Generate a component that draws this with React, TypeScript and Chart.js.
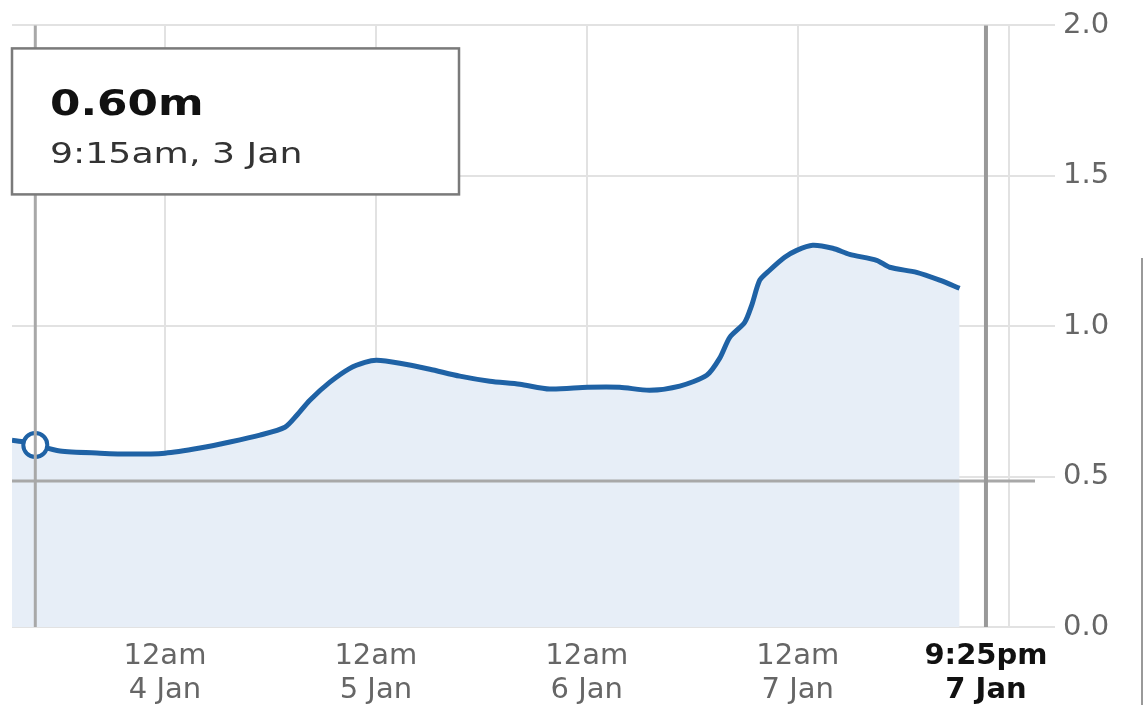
import React, { useEffect, useRef } from "react";
import { Chart, registerables } from "chart.js";

Chart.register(...registerables);

// Hours since 12am 3 Jan
const hours = [
  6.6, 8.08, 9.25, 12.06, 16.61, 20.02, 24, 27.98, 31.39, 34.81, 37.65, 39.01, 40.49, 42.77, 45.04, 46.75,
  48.11, 50.73, 54.14, 57.55, 60.97, 64.38, 67.79, 72.11, 75.75, 79.16, 82.58, 85.65, 87.13, 88.27, 89.97,
  90.77, 91.68, 92.81, 94.52, 95.89, 97.7, 99.98, 101.91, 104.98, 106.46, 109.53, 112.15, 114.42,
];
// River level (m)
const levels = [
  0.621, 0.615, 0.605, 0.585, 0.578, 0.575, 0.578, 0.595, 0.615, 0.638, 0.664, 0.704, 0.754, 0.814, 0.86, 0.88,
  0.887, 0.877, 0.857, 0.834, 0.817, 0.807, 0.791, 0.797, 0.797, 0.787, 0.801, 0.837, 0.894, 0.963, 1.013,
  1.07, 1.153, 1.186, 1.229, 1.252, 1.269, 1.259, 1.239, 1.219, 1.196, 1.179, 1.153, 1.126,
];

const xTickHours = [24, 48, 72, 96, 117.42, 120];
const xTickLabels = [
  ["12am", "4 Jan"],
  ["12am", "5 Jan"],
  ["12am", "6 Jan"],
  ["12am", "7 Jan"],
  ["9:25pm", "7 Jan"],
  "",
];
const yTicks = [0, 0.5, 1.0, 1.5, 2.0];

const selectedHour = 9.25;
const selectedValueText = "0.60m";
const selectedTimeText = "9:15am, 3 Jan";
const nowHour = 117.42;
const crosshairLevel = 0.485;

const LINE = "#1f62a5";
const FONT = "'DejaVu Sans', Verdana, sans-serif";

export default function App() {
  const ref = useRef<HTMLCanvasElement | null>(null);

  useEffect(() => {
    document.body.style.margin = "0";
    const canvas = ref.current;
    if (!canvas) return;

    const overlay = {
      id: "overlay",
      afterDatasetsDraw(chart: any) {
        const { ctx, chartArea, scales } = chart;
        const xs = scales.x;
        const ys = scales.y;
        ctx.save();
        // selected-time vertical crosshair
        ctx.strokeStyle = "#a8a8a8";
        ctx.lineWidth = 3;
        const sx = xs.getPixelForValue(selectedHour);
        ctx.beginPath();
        ctx.moveTo(sx, chartArea.top);
        ctx.lineTo(sx, chartArea.bottom);
        ctx.stroke();
        // horizontal crosshair
        const hy = ys.getPixelForValue(crosshairLevel);
        ctx.beginPath();
        ctx.moveTo(chartArea.left, hy);
        ctx.lineTo(chartArea.right, hy);
        ctx.stroke();
        // now line
        ctx.strokeStyle = "#999";
        ctx.lineWidth = 4;
        const nx = xs.getPixelForValue(nowHour);
        ctx.beginPath();
        ctx.moveTo(nx, chartArea.top);
        ctx.lineTo(nx, chartArea.bottom);
        ctx.stroke();
        ctx.restore();
      },
      afterDraw(chart: any) {
        const { ctx, chartArea } = chart;
        ctx.save();
        // info box
        const bx = chartArea.left;
        const by = chartArea.top + 23;
        const bw = 447;
        const bh = 146;
        ctx.fillStyle = "#fff";
        ctx.fillRect(bx, by, bw, bh);
        ctx.strokeStyle = "#7a7a7a";
        ctx.lineWidth = 2.5;
        ctx.strokeRect(bx, by, bw, bh);
        ctx.textBaseline = "alphabetic";
        ctx.textAlign = "left";
        ctx.save();
        ctx.translate(bx + 38, by + 67);
        ctx.scale(1.25, 1);
        ctx.fillStyle = "#111";
        ctx.font = `bold 35px ${FONT}`;
        ctx.fillText(selectedValueText, 0, 0);
        ctx.restore();
        ctx.save();
        ctx.translate(bx + 38, by + 115);
        ctx.scale(1.25, 1);
        ctx.fillStyle = "#333";
        ctx.font = `29px ${FONT}`;
        ctx.fillText(selectedTimeText, 0, 0);
        ctx.restore();
        // right edge frame line
        ctx.strokeStyle = "#999";
        ctx.lineWidth = 2;
        ctx.beginPath();
        ctx.moveTo(chart.width - 3, 258);
        ctx.lineTo(chart.width - 3, chart.height);
        ctx.stroke();
        ctx.restore();
      },
    };

    const data = hours.map((h, i) => ({ x: h, y: levels[i] }));
    const selIdx = hours.indexOf(selectedHour);

    const chart = new Chart(canvas, {
      type: "line",
      data: {
        datasets: [
          {
            data,
            borderColor: LINE,
            borderWidth: 5,
            backgroundColor: "#e7eef7",
            fill: "origin",
            tension: 0.25,
            pointRadius: (c: any) => (c.dataIndex === selIdx ? 12 : 0),
            pointBackgroundColor: "#fff",
            pointBorderColor: LINE,
            pointBorderWidth: 4,
          },
        ],
      },
      options: {
        animation: false,
        responsive: true,
        maintainAspectRatio: false,
        layout: { padding: { left: 12, top: 25, right: 0, bottom: 0 } },
        plugins: { legend: { display: false }, tooltip: { enabled: false } },
        scales: {
          x: {
            type: "linear",
            min: 6.6,
            max: 123,
            afterBuildTicks: (scale: any) => {
              scale.ticks = xTickHours.map((v) => ({ value: v }));
            },
            afterFit: (scale: any) => {
              scale.height = 78;
            },
            border: { display: false },
            grid: {
              color: (c: any) => (c.tick && c.tick.value === nowHour ? "rgba(0,0,0,0)" : "#e2e2e2"),
              lineWidth: 2,
              drawTicks: false,
            },
            ticks: {
              autoSkip: false,
              maxRotation: 0,
              padding: 13,
              font: (c: any) => ({
                family: FONT,
                size: 29,
                lineHeight: 1.17,
                weight: c.tick && c.tick.value === nowHour ? "bold" : "normal",
              }),
              color: (c: any) => (c.tick && c.tick.value === nowHour ? "#111" : "#666"),
              callback: (v: any) => {
                const i = xTickHours.indexOf(Number(v));
                return i >= 0 ? (xTickLabels[i] as any) : "";
              },
            },
          },
          y: {
            position: "right",
            min: 0,
            max: 2,
            afterBuildTicks: (scale: any) => {
              scale.ticks = yTicks.map((v) => ({ value: v }));
            },
            afterFit: (scale: any) => {
              scale.width = 110;
            },
            border: { display: false },
            grid: { color: "#e2e2e2", lineWidth: 2, tickLength: 20 },
            ticks: {
              padding: 8,
              color: "#666",
              font: { family: FONT, size: 29 },
              callback: (v: any) => Number(v).toFixed(1),
            },
          },
        },
      },
      plugins: [overlay],
    } as any);

    return () => chart.destroy();
  }, []);

  return (
    <div style={{ width: 1145, height: 705, position: "relative" }}>
      <canvas ref={ref} />
    </div>
  );
}
